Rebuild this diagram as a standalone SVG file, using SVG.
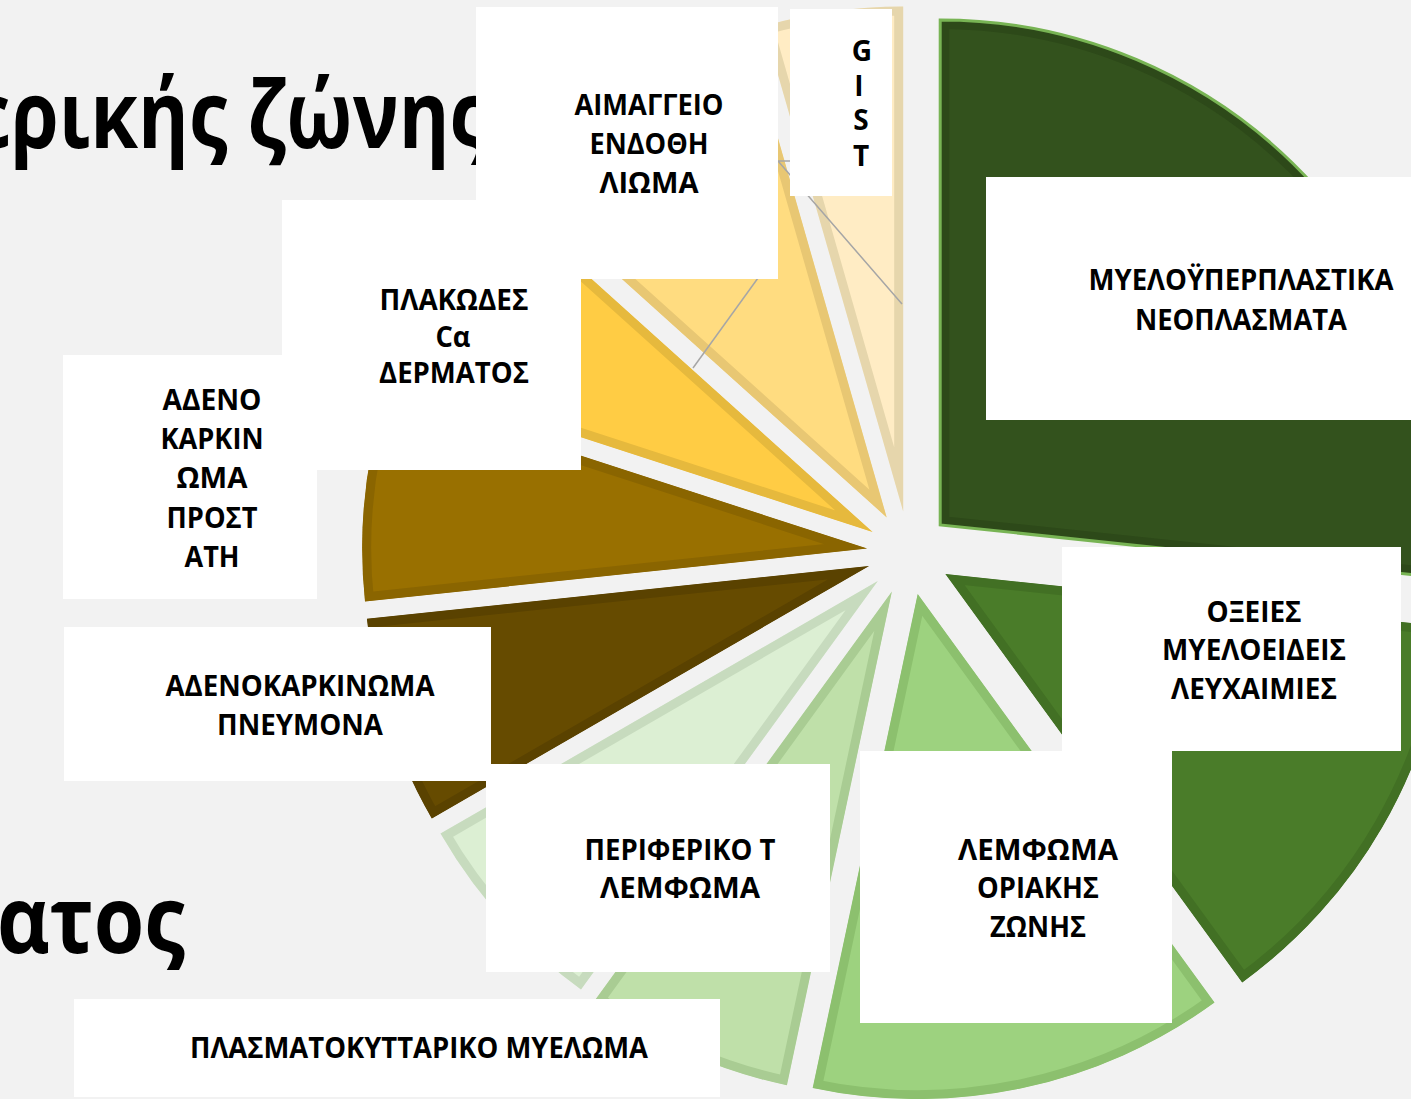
<svg xmlns="http://www.w3.org/2000/svg" xmlns:xlink="http://www.w3.org/1999/xlink" width="1411" height="1099" viewBox="0 0 1411 1099">
<style>
.bg{fill:#f2f2f2}
.sl{stroke-width:18}
.box{fill:#ffffff}
.lbl{font-family:"Open Sans","Noto Sans","DejaVu Sans",sans-serif;font-weight:700;font-size:28px;fill:#000;text-anchor:middle}
.title{font-family:"Open Sans","Noto Sans","DejaVu Sans",sans-serif;font-weight:700;font-size:93px;fill:#000}
.lead{fill:none;stroke:#a6a6a6;stroke-width:1.5}
</style>
<defs>
<path id="pDG" d="M940.2,524.9 L940.2,19.9 A505,505 0 0 1 1442.4,577.7 Z"/>
<path id="pMG" d="M945.4,574 L1447.6,626.8 A505,505 0 0 1 1242.2,982.5 Z"/>
<path id="pLG" d="M917.7,594.1 L1214.5,1002.6 A505,505 0 0 1 812.7,1088 Z"/>
<path id="pLG2" d="M891.9,591.4 L786.9,1085.3 A505,505 0 0 1 595.1,999.9 Z"/>
<path id="pPG" d="M877.8,581.1 L581,989.6 A505,505 0 0 1 440.5,833.6 Z"/>
<path id="pDB" d="M869.1,566 L431.8,818.5 A505,505 0 0 1 366.9,618.8 Z"/>
<path id="pBR" d="M867.2,548.6 L365,601.4 A505,505 0 0 1 386.9,392.6 Z"/>
<path id="pGO" d="M872.6,532 L392.3,376 A505,505 0 0 1 497.3,194.1 Z"/>
<path id="pLY" d="M886.7,517.4 L511.4,179.5 A505,505 0 0 1 747.5,31.9 Z"/>
<path id="pVL" d="M903.2,511.4 L764,25.9 A505,505 0 0 1 903.2,6.4 Z"/>
<clipPath id="cDG"><use xlink:href="#pDG"/></clipPath>
<clipPath id="cMG"><use xlink:href="#pMG"/></clipPath>
<clipPath id="cLG"><use xlink:href="#pLG"/></clipPath>
<clipPath id="cLG2"><use xlink:href="#pLG2"/></clipPath>
<clipPath id="cPG"><use xlink:href="#pPG"/></clipPath>
<clipPath id="cDB"><use xlink:href="#pDB"/></clipPath>
<clipPath id="cBR"><use xlink:href="#pBR"/></clipPath>
<clipPath id="cGO"><use xlink:href="#pGO"/></clipPath>
<clipPath id="cLY"><use xlink:href="#pLY"/></clipPath>
<clipPath id="cVL"><use xlink:href="#pVL"/></clipPath>
</defs>
<rect class="bg" x="0" y="0" width="1411" height="1099"/>
<g id="title-texts">
<text class="title" x="-32" y="148" textLength="520" lengthAdjust="spacingAndGlyphs">ερικής ζώνης</text>
<text class="title" x="-3" y="953" textLength="188" lengthAdjust="spacingAndGlyphs">ατος</text>
</g>
<g id="pie">
<g id="slice-myeloproliferative" clip-path="url(#cDG)"><use xlink:href="#pDG" class="sl" fill="#33521d" stroke="#2d4919"/></g>
<use xlink:href="#pDG" fill="none" stroke="#78b454" stroke-width="3"/>
<g id="slice-aml" clip-path="url(#cMG)"><use xlink:href="#pMG" class="sl" fill="#4a7c29" stroke="#427024"/></g>
<g id="slice-mzl" clip-path="url(#cLG)"><use xlink:href="#pLG" class="sl" fill="#9dd27f" stroke="#8cc06e"/></g>
<g id="slice-myeloma" clip-path="url(#cLG2)"><use xlink:href="#pLG2" class="sl" fill="#bfe0a9" stroke="#a9cc93"/></g>
<g id="slice-ptcl" clip-path="url(#cPG)"><use xlink:href="#pPG" class="sl" fill="#dcefd3" stroke="#c7dbbe"/></g>
<g id="slice-lung" clip-path="url(#cDB)"><use xlink:href="#pDB" class="sl" fill="#664b00" stroke="#5a4200"/></g>
<g id="slice-prostate" clip-path="url(#cBR)"><use xlink:href="#pBR" class="sl" fill="#997000" stroke="#8a6500"/></g>
<g id="slice-scc" clip-path="url(#cGO)"><use xlink:href="#pGO" class="sl" fill="#ffcc44" stroke="#e6b93d"/></g>
<g id="slice-angiosarcoma" clip-path="url(#cLY)"><use xlink:href="#pLY" class="sl" fill="#ffdc80" stroke="#e8c773"/></g>
<g id="slice-gist" clip-path="url(#cVL)"><use xlink:href="#pVL" class="sl" fill="#ffecc4" stroke="#e6d6ac"/></g>
</g>
<g id="connectors">
<polyline class="lead" points="758,278 693,368"/>
<polyline class="lead" points="790,161 778,161 902,304"/>
</g>
<g id="label-angiosarcoma">
<rect class="box" x="476" y="7" width="302" height="272"/>
<text class="lbl" x="649" y="115" textLength="149" lengthAdjust="spacingAndGlyphs">ΑΙΜΑΓΓΕΙΟ</text>
<text class="lbl" x="649" y="154" textLength="119" lengthAdjust="spacingAndGlyphs">ΕΝΔΟΘΗ</text>
<text class="lbl" x="649" y="193" textLength="99" lengthAdjust="spacingAndGlyphs">ΛΙΩΜΑ</text>
</g>
<g id="label-gist">
<rect class="box" x="790" y="9" width="102" height="187"/>
<text class="lbl" x="862" y="61">G</text>
<text class="lbl" x="859" y="96">I</text>
<text class="lbl" x="861" y="130">S</text>
<text class="lbl" x="861" y="166">T</text>
</g>
<g id="label-scc">
<rect class="box" x="282" y="200" width="299" height="270"/>
<text class="lbl" x="454" y="310" textLength="149" lengthAdjust="spacingAndGlyphs">ΠΛΑΚΩΔΕΣ</text>
<text class="lbl" x="453" y="347" textLength="35" lengthAdjust="spacingAndGlyphs">Cα</text>
<text class="lbl" x="454" y="383" textLength="150" lengthAdjust="spacingAndGlyphs">ΔΕΡΜΑΤΟΣ</text>
</g>
<g id="label-prostate">
<rect class="box" x="63" y="355" width="254" height="244"/>
<text class="lbl" x="212" y="410" textLength="99" lengthAdjust="spacingAndGlyphs">ΑΔΕΝΟ</text>
<text class="lbl" x="212" y="449" textLength="103" lengthAdjust="spacingAndGlyphs">ΚΑΡΚΙΝ</text>
<text class="lbl" x="212" y="488" textLength="71" lengthAdjust="spacingAndGlyphs">ΩΜΑ</text>
<text class="lbl" x="212" y="528" textLength="91" lengthAdjust="spacingAndGlyphs">ΠΡΟΣΤ</text>
<text class="lbl" x="212" y="567" textLength="55" lengthAdjust="spacingAndGlyphs">ΑΤΗ</text>
</g>
<g id="label-lung">
<rect class="box" x="64" y="627" width="427" height="154"/>
<text class="lbl" x="300" y="696" textLength="269" lengthAdjust="spacingAndGlyphs">ΑΔΕΝΟΚΑΡΚΙΝΩΜΑ</text>
<text class="lbl" x="300" y="735" textLength="166" lengthAdjust="spacingAndGlyphs">ΠΝΕΥΜΟΝΑ</text>
</g>
<g id="label-ptcl">
<rect class="box" x="486" y="764" width="344" height="208"/>
<text class="lbl" x="680" y="860" textLength="191" lengthAdjust="spacingAndGlyphs">ΠΕΡΙΦΕΡΙΚΟ Τ</text>
<text class="lbl" x="680" y="898" textLength="160" lengthAdjust="spacingAndGlyphs">ΛΕΜΦΩΜΑ</text>
</g>
<g id="label-mzl">
<rect class="box" x="860" y="751" width="312" height="272"/>
<text class="lbl" x="1038" y="860" textLength="160" lengthAdjust="spacingAndGlyphs">ΛΕΜΦΩΜΑ</text>
<text class="lbl" x="1038" y="898" textLength="122" lengthAdjust="spacingAndGlyphs">ΟΡΙΑΚΗΣ</text>
<text class="lbl" x="1038" y="937" textLength="96" lengthAdjust="spacingAndGlyphs">ΖΩΝΗΣ</text>
</g>
<g id="label-aml">
<rect class="box" x="1062" y="547" width="339" height="204"/>
<text class="lbl" x="1254" y="622" textLength="95" lengthAdjust="spacingAndGlyphs">ΟΞΕΙΕΣ</text>
<text class="lbl" x="1254" y="660" textLength="184" lengthAdjust="spacingAndGlyphs">ΜΥΕΛΟΕΙΔΕΙΣ</text>
<text class="lbl" x="1254" y="699" textLength="166" lengthAdjust="spacingAndGlyphs">ΛΕΥΧΑΙΜΙΕΣ</text>
</g>
<g id="label-myeloproliferative">
<rect class="box" x="986" y="177" width="430" height="243"/>
<text class="lbl" x="1241" y="290" textLength="305" lengthAdjust="spacingAndGlyphs">ΜΥΕΛΟΫΠΕΡΠΛΑΣΤΙΚΑ</text>
<text class="lbl" x="1241" y="330" textLength="212" lengthAdjust="spacingAndGlyphs">ΝΕΟΠΛΑΣΜΑΤΑ</text>
</g>
<g id="label-myeloma">
<rect class="box" x="74" y="999" width="646" height="98"/>
<text class="lbl" x="419" y="1058" textLength="458" lengthAdjust="spacingAndGlyphs">ΠΛΑΣΜΑΤΟΚΥΤΤΑΡΙΚΟ ΜΥΕΛΩΜΑ</text>
</g>
</svg>
